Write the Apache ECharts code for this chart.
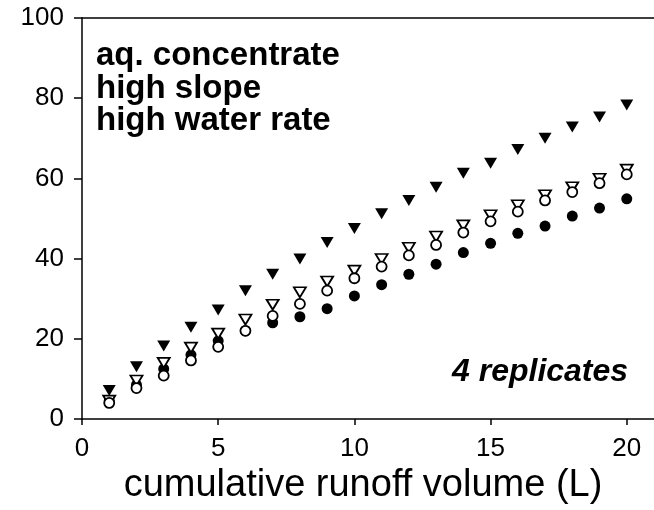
<!DOCTYPE html>
<html>
<head>
<meta charset="utf-8">
<script src="https://cdn.jsdelivr.net/npm/echarts@6/dist/echarts.min.js"></script>
<style>
html,body{margin:0;padding:0;background:#fff;}
#chart{width:654px;height:510px;}
</style>
</head>
<body>
<div id="chart"></div>
<script>
var volumes = [1,2,3,4,5,6,7,8,9,10,11,12,13,14,15,16,17,18,19,20];
var filledTriangle = [7.1,13.0,18.2,22.9,27.2,32.0,36.1,39.9,44.0,47.5,51.2,54.5,57.8,61.3,63.8,67.2,70.0,72.8,75.3,78.3];
var openTriangle   = [4.6,9.6,14.0,17.8,21.3,24.8,28.5,31.6,34.3,37.0,39.9,42.7,45.5,48.3,50.8,53.3,55.8,57.8,59.9,62.2];
var openCircle     = [4.0,7.7,10.8,14.6,18.0,22.0,25.7,28.7,32.0,35.1,38.0,40.8,43.4,46.5,49.3,51.7,54.5,56.6,58.8,61.0];
var filledCircle   = [4.5,8.5,12.5,16.0,19.5,22.0,24.0,25.5,27.5,30.7,33.5,36.1,38.6,41.5,43.8,46.3,48.1,50.6,52.6,54.9];
var xTicks = [0,5,10,15,20];
var yTicks = [0,20,40,60,80,100];
var xTitle = 'cumulative runoff volume (L)';
var noteLines = ['aq. concentrate','high slope','high water rate'];
var replicateNote = '4 replicates';

function pairs(vals){ return vals.map(function(v,i){ return [volumes[i], v]; }); }

var FONT = '"Liberation Sans", Arial, Helvetica, sans-serif';
var chart = echarts.init(document.getElementById('chart'), null, {renderer:'canvas'});

var graphics = noteLines.map(function(t,i){
  return {type:'text', x:96, y:56 + i*32.5, style:{text:t, fontSize:33, fontWeight:'bold', fontFamily:FONT, fill:'#000', align:'left', verticalAlign:'middle'}};
});
graphics.push({type:'text', x:452, y:372, style:{text:replicateNote, fontSize:32, fontWeight:'bold', fontStyle:'italic', fontFamily:FONT, fill:'#000', align:'left', verticalAlign:'middle'}});

var option = {
  animation:false,
  backgroundColor:'#fff',
  grid:{left:82, right:0, top:18, bottom:88, containLabel:false},
  xAxis:[{
    type:'value', min:0, max:21, interval:5,
    axisLine:{show:true, onZero:false, lineStyle:{color:'#000', width:1.5}},
    axisTick:{show:true, inside:false, length:6, lineStyle:{color:'#000', width:1.5},
      customValues: xTicks},
    axisLabel:{show:true, margin:17, fontSize:26, fontFamily:FONT, color:'#000', customValues: xTicks},
    splitLine:{show:false},
    name: xTitle, nameLocation:'middle', nameGap:48,
    nameTextStyle:{fontSize:38, fontFamily:FONT, color:'#000', padding:[0,10,0,0]}
  },{
    type:'value', position:'top', min:0, max:21,
    axisLine:{show:true, onZero:false, lineStyle:{color:'#000', width:1.5}},
    axisTick:{show:false}, axisLabel:{show:false}, splitLine:{show:false}
  }],
  yAxis:{
    type:'value', min:0, max:100, interval:20,
    axisLine:{show:true, onZero:false, lineStyle:{color:'#000', width:1.5}},
    axisTick:{show:true, inside:false, length:8, lineStyle:{color:'#000', width:1.5}},
    axisLabel:{margin:18, fontSize:26, fontFamily:FONT, color:'#000'},
    splitLine:{show:false}
  },
  graphic: graphics,
  series:[
    {type:'scatter', name:'filled circle', data:pairs(filledCircle), symbol:'circle', symbolSize:11,
      itemStyle:{color:'#000', borderColor:'#000', borderWidth:0, opacity:1}, z:2},
    {type:'scatter', name:'open triangle', data:pairs(openTriangle), symbol:'triangle', symbolRotate:180, symbolSize:[12,10],
      itemStyle:{color:'#fff', borderColor:'#000', borderWidth:1.8, opacity:1}, z:3},
    {type:'scatter', name:'open circle', data:pairs(openCircle), symbol:'circle', symbolSize:10,
      itemStyle:{color:'#fff', borderColor:'#000', borderWidth:1.8, opacity:1}, z:4},
    {type:'scatter', name:'filled triangle', data:pairs(filledTriangle), symbol:'triangle', symbolRotate:180, symbolSize:[13,11],
      itemStyle:{color:'#000', borderColor:'#000', borderWidth:0, opacity:1}, z:5}
  ]
};
chart.setOption(option);
</script>
</body>
</html>
